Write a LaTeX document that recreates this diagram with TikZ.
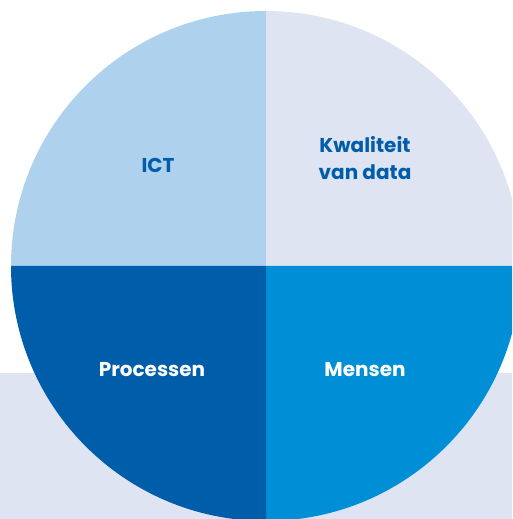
\documentclass[tikz,border=0pt]{standalone}
\usepackage{fontspec}
\setmainfont{Poppins}
\definecolor{ictblue}{RGB}{174,210,238}
\definecolor{datalavender}{RGB}{223,228,242}
\definecolor{procblue}{RGB}{0,93,170}
\definecolor{mensblue}{RGB}{0,143,214}
\tikzset{
	quarterlabel/.style={font=\bfseries\fontsize{20}{27}\selectfont, align=center, inner sep=0pt}
}
\begin{document}
\begin{tikzpicture}[x=1pt,y=1pt]
	\useasboundingbox (0,0) rectangle (512,519);
	\clip (0,0) rectangle (512,519);
	% band behind the lower half
	\fill[datalavender] (0,0) rectangle (512,146);
	\coordinate (centre) at (266,253);
	% the four quarters
	\fill[ictblue] (centre) -- ++(180:255) arc[start angle=180, end angle=90, radius=255] -- cycle;
	\fill[datalavender] (centre) -- ++(90:255) arc[start angle=90, end angle=0, radius=255] -- cycle;
	\fill[mensblue] (centre) -- ++(0:255) arc[start angle=0, end angle=-90, radius=255] -- cycle;
	\fill[procblue] (centre) -- ++(-90:255) arc[start angle=-90, end angle=-180, radius=255] -- cycle;
	% labels
	\node[quarterlabel, text=procblue] (ict) at (158,354) {ICT};
	\node[quarterlabel, text=procblue] (data) at (365,361) {Kwaliteit\\van data};
	\node[quarterlabel, text=white] (processen) at (152,149) {Processen};
	\node[quarterlabel, text=white] (mensen) at (365,149) {Mensen};
\end{tikzpicture}
\end{document}
